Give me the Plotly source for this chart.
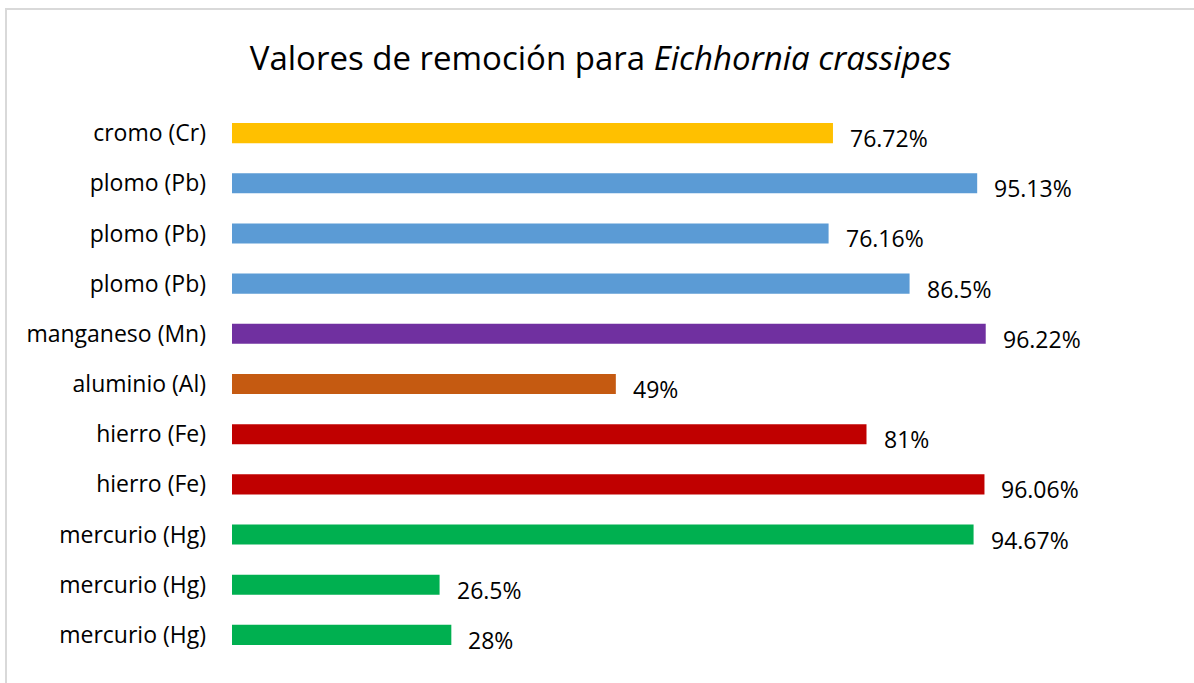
import plotly.graph_objects as go

metals = ["cromo (Cr)", "plomo (Pb)", "plomo (Pb)", "plomo (Pb)", "manganeso (Mn)",
          "aluminio (Al)", "hierro (Fe)", "hierro (Fe)", "mercurio (Hg)",
          "mercurio (Hg)", "mercurio (Hg)"]
removal = [76.72, 95.13, 76.16, 86.5, 96.22, 49, 81, 96.06, 94.67, 26.5, 28]
value_labels = ["76.72%", "95.13%", "76.16%", "86.5%", "96.22%", "49%", "81%",
                "96.06%", "94.67%", "26.5%", "28%"]

metal_colors = {
    "cromo": "#FFC000",
    "plomo": "#5B9BD5",
    "manganeso": "#7030A0",
    "aluminio": "#C55A11",
    "hierro": "#C00000",
    "mercurio": "#00B050",
}

font_family = "Open Sans, Calibri, sans-serif"
positions = list(range(len(metals)))  # duplicated names need their own slot
colors = [metal_colors[m.split(" ")[0]] for m in metals]

fig = go.Figure(go.Bar(
    x=removal,
    y=positions,
    orientation="h",
    width=0.4,
    marker=dict(color=colors, line=dict(width=0)),
    hoverinfo="skip",
))

# percentage labels sit right of each bar, a little below its centre
for pos, val, txt in zip(positions, removal, value_labels):
    fig.add_annotation(
        x=val, y=pos, text=txt, showarrow=False,
        xanchor="left", yanchor="middle", xshift=15, yshift=-5,
        font=dict(family=font_family, size=23, color="#000000"),
    )

fig.update_layout(
    width=1194, height=683,
    margin=dict(l=232, r=22, t=108, b=23),
    paper_bgcolor="white",
    plot_bgcolor="white",
    showlegend=False,
    title=dict(
        text="Valores de remoción para <i>Eichhornia crassipes</i>",
        x=0.503, xanchor="center", y=0.915, yanchor="middle",
        font=dict(family=font_family, size=33, color="#000000"),
    ),
    xaxis=dict(range=[0, 120], visible=False),
    yaxis=dict(
        range=[len(metals) - 0.5, -0.5],
        tickmode="array", tickvals=positions, ticktext=metals,
        showgrid=False, zeroline=False, showline=False, ticks="",
        ticklabelstandoff=25,
        tickfont=dict(family=font_family, size=23, color="#000000"),
    ),
    shapes=[dict(
        type="rect", xref="paper", yref="paper",
        x0=-226 / 940, x1=1.1, y0=-0.2, y1=1 + 99 / 552,
        line=dict(color="#D9D9D9", width=2), fillcolor="rgba(0,0,0,0)",
    )],
)

# drop the default page margin so the figure sits at the window's corner
fig.write_html("out.html", config={"displayModeBar": False},
               post_script="document.body.style.margin='0';")
